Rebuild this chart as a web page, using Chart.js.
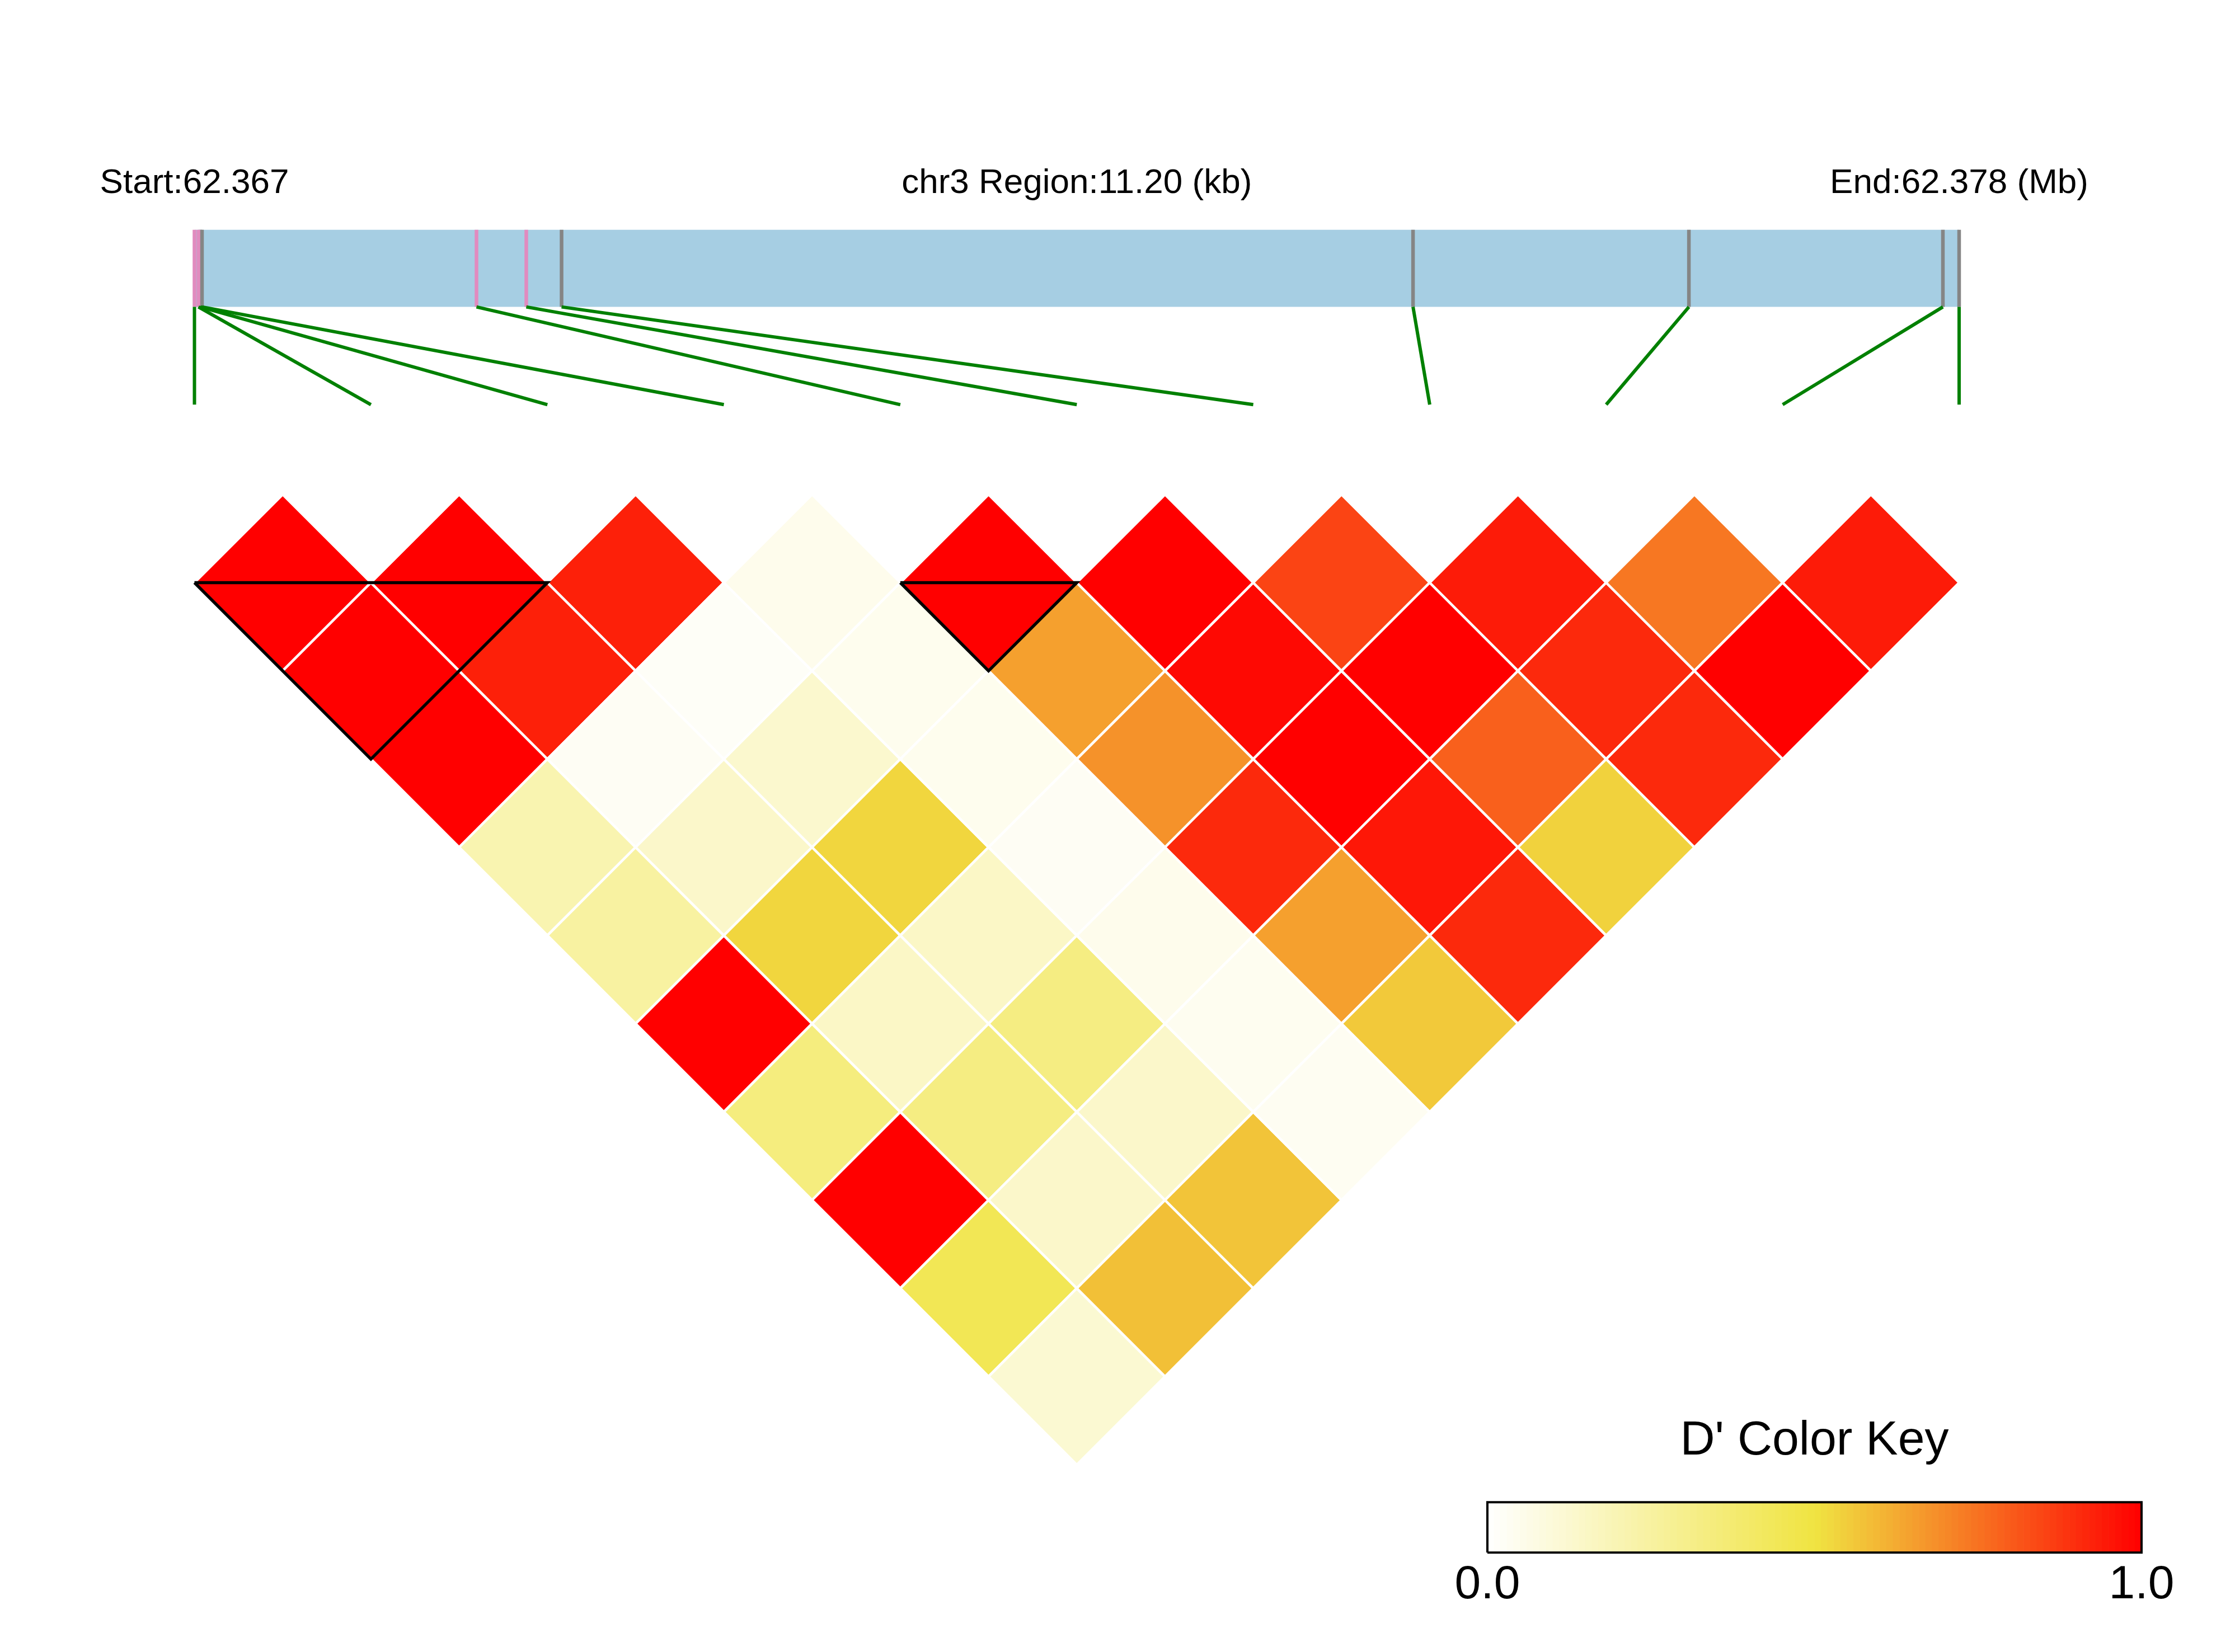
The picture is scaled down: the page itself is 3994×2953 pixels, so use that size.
<!DOCTYPE html>
<html>
<head>
<meta charset="utf-8">
<title>LD block heatmap</title>
<script src="https://cdn.jsdelivr.net/npm/chart.js@4.4.1/dist/chart.umd.min.js"></script>
<style>
  html, body { margin: 0; padding: 0; background: #fff; overflow: hidden; }
  #wrap { position: relative; width: 3994px; height: 2953px; }
  #ldChart { position: absolute; left: 0; top: 0; }
  #keyChart { position: absolute; left: 2500px; top: 2450px; }
</style>
</head>
<body>
<div id="wrap">
  <canvas id="ldChart" width="3994" height="2953"></canvas>
  <canvas id="keyChart" width="1494" height="503"></canvas>
</div>
<script>
// data
const chrom = 'chr3';
const snpPos = [62367100, 62367125, 62367137, 62367148, 62368890, 62369206, 62369430, 62374834, 62376585, 62378197, 62378300];
const snpGroup = [1, 1, 0, 0, 1, 1, 0, 0, 0, 0, 0]; // 1 = pink mark, 0 = grey mark
// D' for SNP i against SNP i+1, i+2, ...
const dprime = [
  [1.00, 1.00, 1.00, 0.21, 0.25, 1.00, 0.34, 1.00, 0.45, 0.12],
  [1.00, 0.93, 0.03, 0.14, 0.53, 0.15, 0.33, 0.14, 0.58],
  [0.93, 0.02, 0.13, 0.53, 0.15, 0.33, 0.14, 0.57],
  [0.05, 0.045, 0.045, 0.03, 0.05, 0.04, 0.035],
  [1.00, 0.65, 0.68, 0.91, 0.65, 0.56],
  [1.00, 0.98, 1.00, 0.95, 0.91],
  [0.85, 1.00, 0.79, 0.54],
  [0.94, 0.91, 0.91],
  [0.74, 1.00],
  [0.94]
];
const blocks = [[0, 2], [4, 5]];
const keyTicks = [0, 1];
const keyTitle = "D' Color Key";

const FONT = "'Liberation Sans', Arial, Helvetica, sans-serif";
Chart.defaults.font.family = FONT;

function ldColor(v) {
  const white = [255, 255, 255], yellow = [240, 228, 66], red = [255, 0, 0];
  const lo = v <= 0.5;
  const a = lo ? white : yellow, b = lo ? yellow : red;
  const t = lo ? v / 0.5 : (v - 0.5) / 0.5;
  const c = a.map((x, i) => Math.round(x + (b[i] - x) * t));
  return `rgb(${c[0]},${c[1]},${c[2]})`;
}

// layout of the main canvas
const W = 3994, H = 2953;
const nSnp = snpPos.length;
const X_FIRST = 347.5, X_LAST = 3501;
const STEP = (X_LAST - X_FIRST) / (nSnp - 1);
const ROW1_Y = 1041.5;
const PAD_TOP = 291, LABEL_SIZE = 62;
const areaTop = PAD_TOP + LABEL_SIZE * 1.2;
const xMin = -X_FIRST / STEP, xMax = (W - X_FIRST) / STEP;
const yMin = 1 + (areaTop - ROW1_Y) / (STEP / 2);
const yMax = 1 + (H - ROW1_Y) / (STEP / 2);
const BAR_TOP = -3.0, BAR_BOTTOM = -2.126, LINK_END = -1.018;

const start = snpPos[0], end = snpPos[nSnp - 1];
const toIndex = p => (p - start) / (end - start) * (nSnp - 1);
const topLabels = [
  `Start:${(start / 1e6).toFixed(3)}`,
  `${chrom} Region:${((end - start) / 1000).toFixed(2)} (kb)`,
  `End:${(end / 1e6).toFixed(3)} (Mb)`
];
const topTickAt = [0, (nSnp - 1) / 2, nSnp - 1];

const cells = [];
dprime.forEach((row, i) => row.forEach((v, k) => {
  const j = i + k + 1;
  cells.push({ x: (i + j) / 2, y: j - i, v });
}));

const halfStep = chart => {
  const s = chart.scales.x;
  return (s.getPixelForValue(1) - s.getPixelForValue(0)) / 2;
};

const lineSet = (data, color, width, order) => ({
  type: 'line', data, borderColor: color, borderWidth: width, pointRadius: 0,
  fill: false, tension: 0, order, clip: false, borderJoinStyle: 'miter'
});

const datasets = [];
blocks.forEach(([a, b]) => {
  datasets.push(lineSet([
    { x: a, y: 1 }, { x: b, y: 1 }, { x: (a + b) / 2, y: 1 + (b - a) }, { x: a, y: 1 }
  ], '#000', 5.5, 0));
});
snpPos.forEach((p, k) => {
  const g = toIndex(p);
  datasets.push(lineSet([{ x: g, y: BAR_BOTTOM }, { x: k, y: LINK_END }], '#008000', 6, 1));
  datasets.push(lineSet([{ x: g, y: BAR_TOP }, { x: g, y: BAR_BOTTOM }], snpGroup[k] ? '#E18BBF' : '#858585', 6.5, 1));
});
datasets.push({
  type: 'line', data: [{ x: 0, y: BAR_TOP }, { x: nSnp - 1, y: BAR_TOP }],
  borderWidth: 0, borderColor: 'rgba(0,0,0,0)', pointRadius: 0,
  fill: { value: BAR_BOTTOM }, backgroundColor: '#A6CEE3', order: 2
});
datasets.push({
  type: 'scatter', label: "D'", data: cells, order: 3,
  pointStyle: 'rectRot',
  pointRadius: ctx => halfStep(ctx.chart),
  pointBackgroundColor: ctx => ctx.raw ? ldColor(ctx.raw.v) : '#fff',
  pointBorderColor: '#fff',
  pointBorderWidth: 4.5
});

new Chart(document.getElementById('ldChart'), {
  type: 'scatter',
  data: { datasets },
  options: {
    responsive: false,
    animation: false,
    events: [],
    layout: { padding: { top: PAD_TOP, left: 0, right: 0, bottom: 0 } },
    plugins: { legend: { display: false }, tooltip: { enabled: false }, title: { display: false } },
    scales: {
      x: { type: 'linear', min: xMin, max: xMax, bounds: 'data', display: false },
      xTop: {
        type: 'linear', axis: 'x', position: 'top', display: true,
        min: xMin, max: xMax, bounds: 'data',
        grid: { display: false, drawTicks: false },
        border: { display: false },
        ticks: {
          padding: 0, maxRotation: 0, autoSkip: false, color: '#000',
          font: { size: LABEL_SIZE },
          callback: (value, index) => topLabels[index]
        },
        afterBuildTicks: s => { s.ticks = topTickAt.map(value => ({ value })); }
      },
      y: { type: 'linear', min: yMin, max: yMax, reverse: true, bounds: 'data', display: false }
    }
  }
});

// colour key
const keySteps = 100;
const keyBars = [];
for (let k = 0; k < keySteps; k++) keyBars.push({ x: (k + 0.5) / keySteps, y: 1 });

new Chart(document.getElementById('keyChart'), {
  type: 'bar',
  data: {
    datasets: [
      {
        type: 'line',
        data: [{ x: 0, y: 0 }, { x: 1, y: 0 }, { x: 1, y: 1 }, { x: 0, y: 1 }, { x: 0, y: 0 }],
        borderColor: '#000', borderWidth: 4, pointRadius: 0, fill: false,
        clip: false, borderJoinStyle: 'miter', order: 0
      },
      {
        type: 'bar', data: keyBars,
        backgroundColor: keyBars.map(b => ldColor(b.x)),
        borderWidth: 0, barPercentage: 1, categoryPercentage: 1, order: 1
      }
    ]
  },
  options: {
    responsive: false,
    animation: false,
    events: [],
    layout: { padding: { top: 0, left: 158, right: 167, bottom: 61 } },
    plugins: {
      legend: { display: false },
      tooltip: { enabled: false },
      title: {
        display: true, text: keyTitle, color: '#000',
        font: { size: 86, weight: 'normal' },
        padding: { top: 75, bottom: 57 }
      }
    },
    scales: {
      x: {
        type: 'linear', min: 0, max: 1, bounds: 'data', offset: false,
        grid: { display: false, drawTicks: false, offset: false },
        border: { display: false },
        ticks: {
          padding: 8, maxRotation: 0, autoSkip: false, color: '#000',
          font: { size: 84 },
          callback: v => v.toFixed(1)
        },
        afterBuildTicks: s => { s.ticks = keyTicks.map(value => ({ value })); }
      },
      y: { type: 'linear', min: 0, max: 1, display: false }
    }
  }
});
</script>
</body>
</html>
